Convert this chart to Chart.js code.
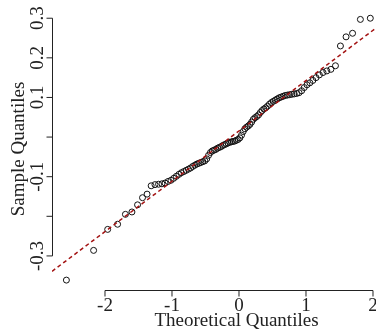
<!DOCTYPE html>
<html>
<head>
<meta charset="utf-8">
<script src="https://cdn.jsdelivr.net/npm/chart.js@4"></script>
<style>
  html, body { margin: 0; padding: 0; background: #fff; overflow: hidden; }
  #wrap { width: 376px; height: 331px; }
</style>
</head>
<body>
<div id="wrap"><canvas id="qq" width="376" height="331"></canvas></div>
<script>
// theoretical quantiles (visible ones, right tail is cut off by the frame)
const theoretical = [
  -2.576, -2.170, -1.960, -1.812, -1.695, -1.598, -1.514, -1.440, -1.372, -1.311,
  -1.254, -1.200, -1.150, -1.103, -1.058, -1.015, -0.974, -0.935, -0.896, -0.860,
  -0.824, -0.789, -0.755, -0.722, -0.690, -0.659, -0.628, -0.598, -0.568, -0.539,
  -0.510, -0.482, -0.454, -0.426, -0.399, -0.372, -0.345, -0.319, -0.292, -0.266,
  -0.240, -0.215, -0.189, -0.164, -0.138, -0.113, -0.088, -0.063, -0.038, -0.013,
   0.013,  0.038,  0.063,  0.088,  0.113,  0.138,  0.164,  0.189,  0.215,  0.240,
   0.266,  0.292,  0.319,  0.345,  0.372,  0.399,  0.426,  0.454,  0.482,  0.510,
   0.539,  0.568,  0.598,  0.628,  0.659,  0.690,  0.722,  0.755,  0.789,  0.824,
   0.860,  0.896,  0.935,  0.974,  1.015,  1.058,  1.103,  1.150,  1.200,  1.254,
   1.311,  1.372,  1.440,  1.514,  1.598,  1.695,  1.812,  1.960
];
// sample quantiles
const sample = [
  -0.361, -0.286, -0.233, -0.220, -0.195, -0.189, -0.171, -0.153, -0.144, -0.123,
  -0.120, -0.119, -0.118, -0.116, -0.112, -0.109, -0.104, -0.099, -0.094, -0.090,
  -0.087, -0.084, -0.081, -0.078, -0.074, -0.071, -0.068, -0.066, -0.064, -0.062,
  -0.060, -0.055, -0.046, -0.039, -0.035, -0.033, -0.031, -0.028, -0.026, -0.024,
  -0.021, -0.019, -0.017, -0.015, -0.013, -0.012, -0.011, -0.010, -0.008, -0.006,
  -0.002,  0.005,  0.014,  0.021,  0.025,  0.028,  0.032,  0.038,  0.045,  0.049,
   0.052,  0.056,  0.062,  0.067,  0.071,  0.074,  0.078,  0.083,  0.087,  0.090,
   0.093,  0.096,  0.099,  0.101,  0.103,  0.105,  0.106,  0.107,  0.108,  0.109,
   0.110,  0.112,  0.117,  0.125,  0.132,  0.137,  0.143,  0.150,  0.157,  0.163,
   0.167,  0.171,  0.180,  0.230,  0.253,  0.262,  0.297,  0.300
];
// reference line (qqline)
const lineIntercept = 0.0155;
const lineSlope = 0.127;

const xTicks = [-2, -1, 0, 1, 2];
const xTickLabels = ['-2', '-1', '0', '1', '2'];
const yTicks = [-0.3, -0.2, -0.1, 0, 0.1, 0.2, 0.3];
const yTickLabels = ['-0.3', '', '-0.1', '', '0.1', '0.2', '0.3'];
const xTitle = 'Theoretical Quantiles';
const yTitle = 'Sample Quantiles';

const X_MIN = -2.791, X_MAX = 2.045;
const Y_MIN = -0.386, Y_MAX = 0.346;
const FONT = '"Liberation Serif", "DejaVu Serif", serif';
const INK = '#222';

const points = theoretical.map((x, i) => ({ x: x, y: sample[i] }));
const linePts = [X_MIN, X_MAX].map(x => ({ x: x, y: lineIntercept + lineSlope * x }));

// R-style axes: lines only from first to last tick, labels rotated on y
const rAxes = {
  id: 'rAxes',
  afterDraw(chart) {
    const ctx = chart.ctx;
    const xs = chart.scales.x, ys = chart.scales.y;
    const area = chart.chartArea;
    const tick = 6;
    ctx.save();
    ctx.strokeStyle = INK;
    ctx.fillStyle = INK;
    ctx.lineWidth = 1;

    // x axis
    const yAx = Math.round(area.bottom) + 0.5;
    const x0 = xs.getPixelForValue(xTicks[0]);
    const x1 = xs.getPixelForValue(xTicks[xTicks.length - 1]);
    ctx.beginPath();
    ctx.moveTo(x0, yAx); ctx.lineTo(x1, yAx);
    xTicks.forEach(v => {
      const px = xs.getPixelForValue(v);
      ctx.moveTo(px, yAx); ctx.lineTo(px, yAx + tick);
    });
    ctx.stroke();
    ctx.font = '19px ' + FONT;
    ctx.textAlign = 'center';
    ctx.textBaseline = 'alphabetic';
    xTicks.forEach((v, i) => ctx.fillText(xTickLabels[i], xs.getPixelForValue(v), yAx + 20));
    ctx.fillText(xTitle, 236.5, yAx + 35);

    // y axis
    const xAx = Math.round(area.left) + 0.5;
    const yb = ys.getPixelForValue(yTicks[0]);
    const yt = ys.getPixelForValue(yTicks[yTicks.length - 1]);
    ctx.beginPath();
    ctx.moveTo(xAx, yb); ctx.lineTo(xAx, yt);
    yTicks.forEach(v => {
      const py = ys.getPixelForValue(v);
      ctx.moveTo(xAx, py); ctx.lineTo(xAx - tick, py);
    });
    ctx.stroke();
    yTicks.forEach((v, i) => {
      if (!yTickLabels[i]) return;
      ctx.save();
      ctx.translate(xAx - 10, ys.getPixelForValue(v));
      ctx.rotate(-Math.PI / 2);
      ctx.fillText(yTickLabels[i], 0, 0);
      ctx.restore();
    });
    ctx.save();
    ctx.translate(xAx - 29, 149);
    ctx.rotate(-Math.PI / 2);
    ctx.fillText(yTitle, 0, 0);
    ctx.restore();
    ctx.restore();
  }
};

new Chart(document.getElementById('qq'), {
  type: 'scatter',
  data: {
    datasets: [
      {
        data: points,
        pointStyle: 'circle',
        pointRadius: 3,
        pointBorderWidth: 1,
        pointBorderColor: '#111',
        pointBackgroundColor: 'rgba(0,0,0,0)',
        showLine: false,
        order: 2
      },
      {
        type: 'line',
        data: linePts,
        borderColor: '#a31212',
        borderWidth: 1.5,
        borderDash: [4, 3],
        pointRadius: 0,
        fill: false,
        order: 1
      }
    ]
  },
  options: {
    responsive: false,
    animation: false,
    events: [],
    layout: { autoPadding: false, padding: { left: 52, right: 0, top: 0, bottom: 41 } },
    plugins: { legend: { display: false }, tooltip: { enabled: false } },
    scales: {
      x: { type: 'linear', min: X_MIN, max: X_MAX, display: false },
      y: { type: 'linear', min: Y_MIN, max: Y_MAX, display: false }
    }
  },
  plugins: [rAxes]
});
</script>
</body>
</html>
